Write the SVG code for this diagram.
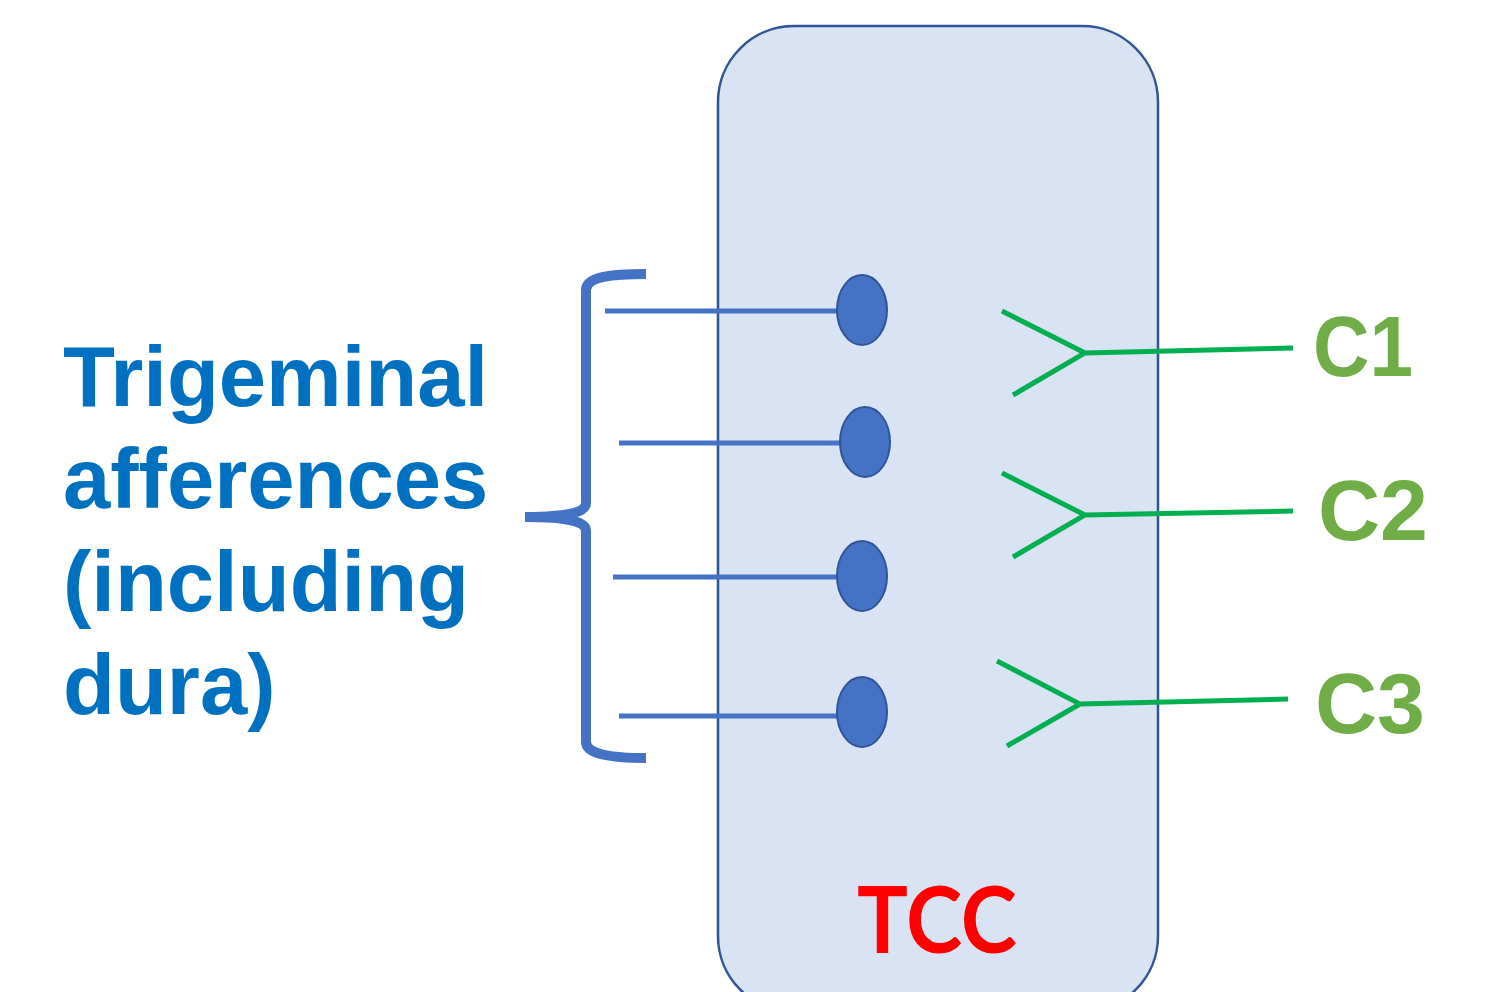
<svg xmlns="http://www.w3.org/2000/svg" width="1488" height="992" viewBox="0 0 1488 992">
<style>
.afferent{stroke:#4472C4;stroke-width:5;fill:none}
.neuron{fill:#4472C4;stroke:#2F5597;stroke-width:2}
.efferent{stroke:#00B050;stroke-width:5;fill:none;stroke-linejoin:miter}
.lbl{font-family:"Liberation Sans",Arial,sans-serif;font-weight:bold}
.clbl{font-family:"Liberation Sans",Arial,sans-serif;font-weight:bold;fill:#70AD47;font-size:86px}
</style>
<rect width="1488" height="992" fill="#FFFFFF"/>
<g id="tcc">
<rect x="718" y="26" width="440" height="986" rx="76" ry="76" fill="#DAE3F3" stroke="#2F5597" stroke-width="2.5"/>
<text x="937" y="953" text-anchor="middle" font-family="Lato,'Open Sans',sans-serif" font-weight="bold" font-size="92" fill="#FF0000" textLength="160" lengthAdjust="spacingAndGlyphs">TCC</text>
</g>
<g id="trigeminal-label" class="lbl" fill="#0070C0" font-size="85">
<text x="63" y="406">Trigeminal</text>
<text x="63" y="508">afferences</text>
<text x="63" y="611">(including</text>
<text x="63" y="714">dura)</text>
</g>
<g id="brace">
<path d="M646,274 C610,274 586,277 586,290 L586,503 C586,512 570,517 525,517 C570,517 586,522 586,531 L586,742 C586,754 610,758 646,758" fill="none" stroke="#4472C4" stroke-width="10"/>
</g>
<g id="connectors">
<line class="afferent" x1="605" y1="311" x2="838" y2="311"/>
<line class="afferent" x1="619" y1="443" x2="842" y2="443"/>
<line class="afferent" x1="613" y1="577" x2="838" y2="577"/>
<line class="afferent" x1="619" y1="716" x2="838" y2="716"/>
<path class="efferent" d="M1002,311 L1085,353 L1013,395 M1085,353 L1293,348"/>
<path class="efferent" d="M1002,473 L1085,515 L1013,557 M1085,515 L1293,511"/>
<path class="efferent" d="M997,661 L1080,704 L1007,746 M1080,704 L1288,699"/>
</g>
<g id="neuron1"><ellipse class="neuron" cx="862" cy="310" rx="25" ry="35"/></g>
<g id="neuron2"><ellipse class="neuron" cx="865" cy="442" rx="25" ry="35"/></g>
<g id="neuron3"><ellipse class="neuron" cx="862" cy="576" rx="25" ry="35"/></g>
<g id="neuron4"><ellipse class="neuron" cx="862" cy="712" rx="25" ry="35"/></g>
<g id="c1"><text class="clbl" x="1313" y="376" textLength="100" lengthAdjust="spacingAndGlyphs">C1</text></g>
<g id="c2"><text class="clbl" x="1318" y="540">C2</text></g>
<g id="c3"><text class="clbl" x="1315" y="733">C3</text></g>
</svg>
